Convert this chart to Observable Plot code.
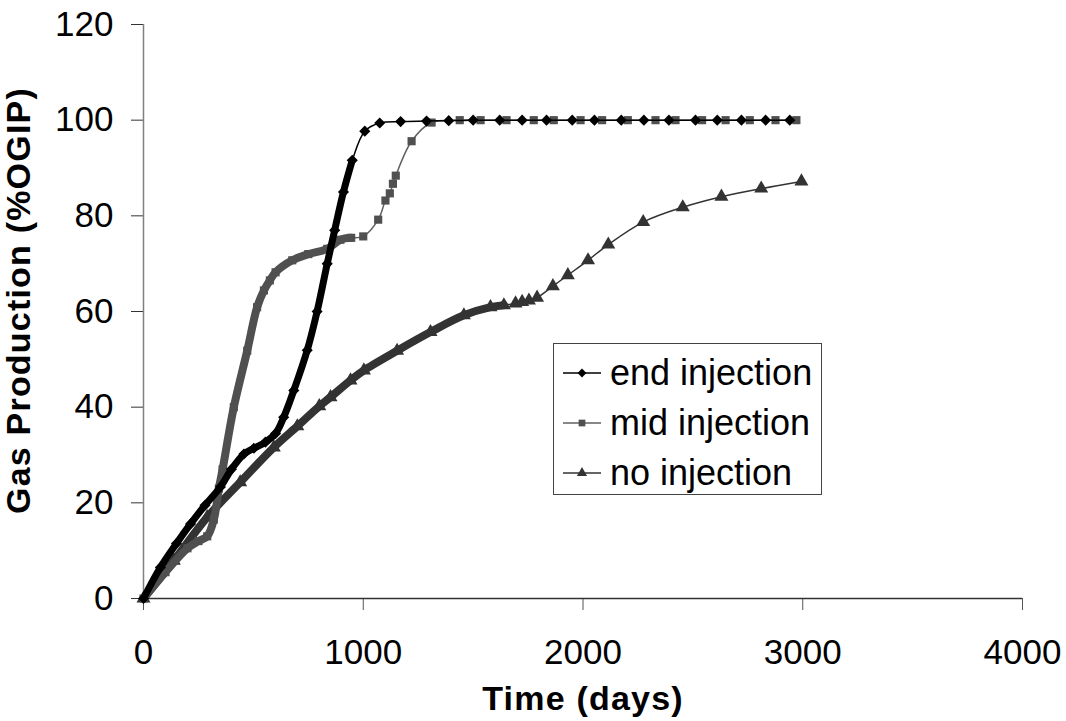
<!DOCTYPE html>
<html>
<head>
<meta charset="utf-8">
<script src="https://cdn.jsdelivr.net/npm/d3@7"></script>
<script src="https://cdn.jsdelivr.net/npm/@observablehq/plot@0.6"></script>
<style>
  body { margin: 0; background: #fff; font-family: "Liberation Sans", Arial, sans-serif; }
  #wrap { position: relative; width: 1066px; height: 721px; }
  .xtitle text, .ytitle text { letter-spacing: 1.2px; }
  #legend { position: absolute; left: 553px; top: 343px; width: 269px; height: 152px;
            border: 1px solid #444; background: #fff; box-sizing: border-box; }
  #legend .row { position: absolute; left: 9px; height: 40px; display: flex; align-items: center;
                 font-size: 36px; color: #000; white-space: nowrap; }
  #legend svg { margin-right: 9px; }
</style>
</head>
<body>
<div id="wrap">
  <div id="chart"></div>
  <div id="legend"></div>
</div>
<script>
// ---- data (days, % OGIP) ----
const seriesNames = ["end injection", "mid injection", "no injection"];

// end injection: closely spaced time steps, then sparse markers
const endDenseDays = [0, 77, 150, 214, 280, 350, 400, 457, 502, 555, 601, 638, 684, 745, 790, 836, 870, 910, 950];
const endDenseGas  = [0, 6.5, 11.5, 15.6, 19.5, 23.3, 27, 30.2, 31.4, 32.7, 34.5, 37.9, 43.5, 51.9, 60, 70, 77, 85, 91.6];
const endDays = [1007, 1075, 1170, 1288, 1389, 1500, 1621, 1723, 1834, 1951, 2052, 2174, 2277, 2391, 2512, 2611, 2721, 2831, 2941];
const endGas  = [97.7, 99.4, 99.7, 99.8, 99.9, 100, 100, 100, 100, 100, 100, 100, 100, 100, 100, 100, 100, 100, 100];

// mid injection
const midDenseDays = [0, 100, 200, 250, 290, 320, 343, 360, 411, 472, 517, 548, 575, 601, 677, 750, 836, 896, 945];
const midDenseGas  = [0, 5.5, 10.5, 12, 13, 16.5, 23, 27, 40, 51.8, 60.9, 64.4, 66.5, 68.2, 70.7, 72, 73.1, 75, 75.4];
const midDays = [1000, 1068, 1101, 1121, 1135, 1148, 1220, 1311, 1439, 1534, 1652, 1776, 1867, 1989, 2087, 2204, 2330, 2421, 2542, 2649, 2759, 2876, 2971];
const midGas  = [75.7, 79.2, 83.2, 84.7, 86.7, 88.4, 95.6, 99.5, 100, 100, 100, 100, 100, 100, 100, 100, 100, 100, 100, 100, 100, 100, 100];

// no injection
const noDenseDays = [0, 138, 290, 440, 593, 700, 800, 851, 942, 1003, 1154, 1306, 1458, 1579, 1640];
const noDenseGas  = [0, 7.9, 17, 24.3, 31.6, 36, 40.2, 42.1, 45.6, 47.7, 51.8, 55.7, 59.2, 60.9, 61.3];
const noDays = [1693, 1723, 1754, 1791, 1863, 1931, 2023, 2115, 2274, 2454, 2630, 2811, 2994];
const noGas  = [61.7, 62, 62.3, 62.9, 65.3, 67.6, 70.7, 74, 78.7, 81.8, 84, 85.7, 87.2];

const xTicks = [0, 1000, 2000, 3000, 4000];
const yTicks = [0, 20, 40, 60, 80, 100, 120];

// ---- build tables ----
const styles = {
  "end injection": {color: "#000000", line: "#000000", symbol: "diamond2", r: 5, band: 7},
  "mid injection": {color: "#505050", line: "#606060", symbol: "square", r: 4.6, band: 8},
  "no injection":  {color: "#333333", line: "#333333", symbol: "triangle", r: 5.2, band: 8}
};
function rows(name, days, gas) { return days.map((d, i) => ({series: name, day: d, gas: gas[i]})); }
const dense = {
  "end injection": rows("end injection", endDenseDays, endDenseGas),
  "mid injection": rows("mid injection", midDenseDays, midDenseGas),
  "no injection":  rows("no injection", noDenseDays, noDenseGas)
};
const sparse = {
  "end injection": rows("end injection", endDays, endGas),
  "mid injection": rows("mid injection", midDays, midGas),
  "no injection":  rows("no injection", noDays, noGas)
};

const font = '"Liberation Sans", Arial, sans-serif';
const marks = [];
// draw order: no, mid, end (end on top)
for (const name of ["no injection", "mid injection", "end injection"]) {
  const s = styles[name];
  const all = dense[name].concat(sparse[name]);
  marks.push(Plot.line(all, {x: "day", y: "gas", stroke: s.line, strokeWidth: 1.5, curve: "catmull-rom"}));
  marks.push(Plot.line(dense[name], {x: "day", y: "gas", stroke: s.color, strokeWidth: s.band, strokeLinejoin: "round", strokeLinecap: "round", curve: "catmull-rom"}));
  marks.push(Plot.dot(all, {x: "day", y: "gas", symbol: () => s.symbol, fill: s.color, stroke: "none", r: s.r}));
}

const chart = Plot.plot({
  width: 1066,
  height: 721,
  marginLeft: 143,
  marginRight: 44,
  marginTop: 24,
  marginBottom: 123,
  style: {fontFamily: font, fontSize: "35px", color: "#000", background: "#fff"},
  x: {domain: [0, 4000], label: null},
  y: {domain: [0, 120], label: null},
  marks: [
    Plot.axisX({ticks: xTicks, tickSize: 12, tickPadding: 29, fontSize: 35, stroke: "#555", tickFormat: d => String(d), label: null}),
    Plot.axisY({ticks: yTicks, tickSize: 12, tickPadding: 18, fontSize: 35, stroke: "#333", tickFormat: d => String(d), label: null}),
    Plot.ruleX([0], {stroke: "#808080", strokeWidth: 1.5}),
    Plot.ruleY([0], {stroke: "#333", strokeWidth: 1.5}),
    ...marks,
    Plot.text(["Time (days)"], {frameAnchor: "bottom", dy: 111, fontSize: 34, fontWeight: "bold", fill: "#000", className: "xtitle"}),
    Plot.text(["Gas Production (%OGIP)"], {frameAnchor: "left", textAnchor: "middle", dx: -124, dy: -11, rotate: -90, fontSize: 34, fontWeight: "bold", fill: "#000", className: "ytitle"})
  ]
});
document.getElementById("chart").appendChild(chart);

// ---- legend ----
const legend = d3.select("#legend");
const symMap = {diamond2: d3.symbolDiamond2, square: d3.symbolSquare, triangle: d3.symbolTriangle};
seriesNames.forEach((name, i) => {
  const s = styles[name];
  const row = legend.append("div").attr("class", "row").style("top", (9 + i * 50) + "px");
  const svg = row.append("svg").attr("width", 38).attr("height", 20);
  svg.append("line").attr("x1", 0).attr("x2", 38).attr("y1", 10).attr("y2", 10)
     .attr("stroke", s.line).attr("stroke-width", 1.5);
  svg.append("path").attr("transform", "translate(19,10)")
     .attr("d", d3.symbol(symMap[s.symbol], s.symbol === "diamond2" ? 50 : 45)())
     .attr("fill", s.color);
  row.append("span").text(name);
});
</script>
</body>
</html>
